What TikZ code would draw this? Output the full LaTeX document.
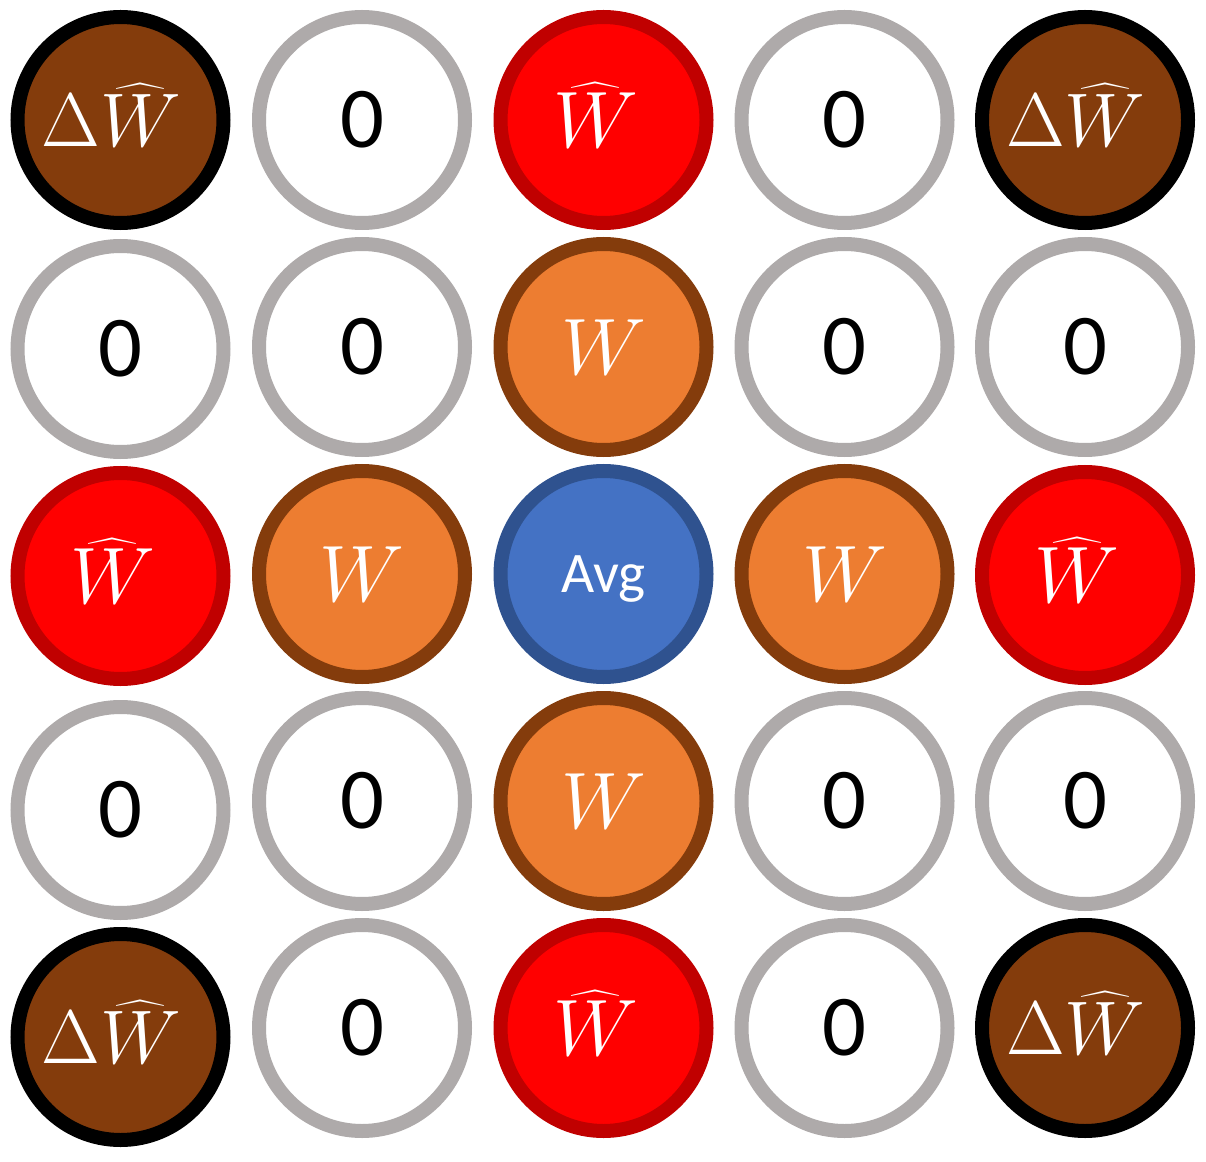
\documentclass[tikz,border=0pt]{standalone}
\usepackage{fix-cm}
\usepackage{amsmath}
\usepackage{fontspec}
\newfontfamily\calibri{Carlito}
\usepackage{tikz}

\definecolor{zline}{HTML}{AEAAAA}
\definecolor{hatfill}{HTML}{FF0000}
\definecolor{hatline}{HTML}{C00000}
\definecolor{wfill}{HTML}{ED7D31}
\definecolor{wline}{HTML}{843C0C}
\definecolor{dfill}{HTML}{843C0C}
\definecolor{avgfill}{HTML}{4472C4}
\definecolor{avgline}{HTML}{2F528F}

% label texts, kern on the right pulls the text a bit to the left,
% the empty rule lifts it a little
\newcommand{\hatw}{\rule[-7pt]{0pt}{0pt}$\widehat{W}$\kern12pt}
\newcommand{\dhatw}{\rule[-7pt]{0pt}{0pt}$\Delta\widehat{W}$\kern14pt}
\newcommand{\avgtext}{\rule{0pt}{35pt}Avg}

\tikzset{
  cell/.style={circle, minimum size=154.5pt, inner sep=0pt, line width=10.5pt},
  zcell/.style={cell, draw=zline, fill=white, font=\calibri\fontsize{65}{65}\selectfont},
  hatcell/.style={cell, draw=hatline, fill=hatfill, text=white, font=\fontsize{60}{60}\selectfont},
  dcell/.style={cell, draw=black, fill=dfill, text=white, font=\fontsize{57}{57}\selectfont},
  wcell/.style={cell, draw=wline, fill=wfill, text=white, font=\fontsize{60}{60}\selectfont},
  avgcell/.style={cell, draw=avgline, fill=avgfill, text=white, font=\calibri\fontsize{43}{43}\selectfont}
}

\begin{document}
\begin{tikzpicture}[x=0.75pt, y=-0.75pt]
\useasboundingbox (0,0) rectangle (1206,1162);
% 5x5 grid, first column sits a little lower in the bottom rows
\foreach \s/\n/\x/\y/\t in {
  dcell/c11/120.5/120/\dhatw, zcell/c12/362/120/0, hatcell/c13/603.5/120/\hatw, zcell/c14/844.5/120/0, dcell/c15/1085/120/\dhatw,
  zcell/c21/120.5/349/0, zcell/c22/362/347/0, wcell/c23/603.5/347/{$W$}, zcell/c24/844.5/347/0, zcell/c25/1085/347/0,
  hatcell/c31/120.5/576/\hatw, wcell/c32/362/574/{$W$}, avgcell/c33/603.5/574/\avgtext, wcell/c34/844.5/574/{$W$}, hatcell/c35/1085/575/\hatw,
  zcell/c41/120.5/810/0, zcell/c42/362/801/0, wcell/c43/603.5/801/{$W$}, zcell/c44/844.5/801/0, zcell/c45/1085/801/0,
  dcell/c51/120.5/1037/\dhatw, zcell/c52/362/1028/0, hatcell/c53/603.5/1028/\hatw, zcell/c54/844.5/1028/0, dcell/c55/1085/1028/\dhatw
} {
  \node[\s] (\n) at (\x,\y) {\t};
}
\end{tikzpicture}
\end{document}
